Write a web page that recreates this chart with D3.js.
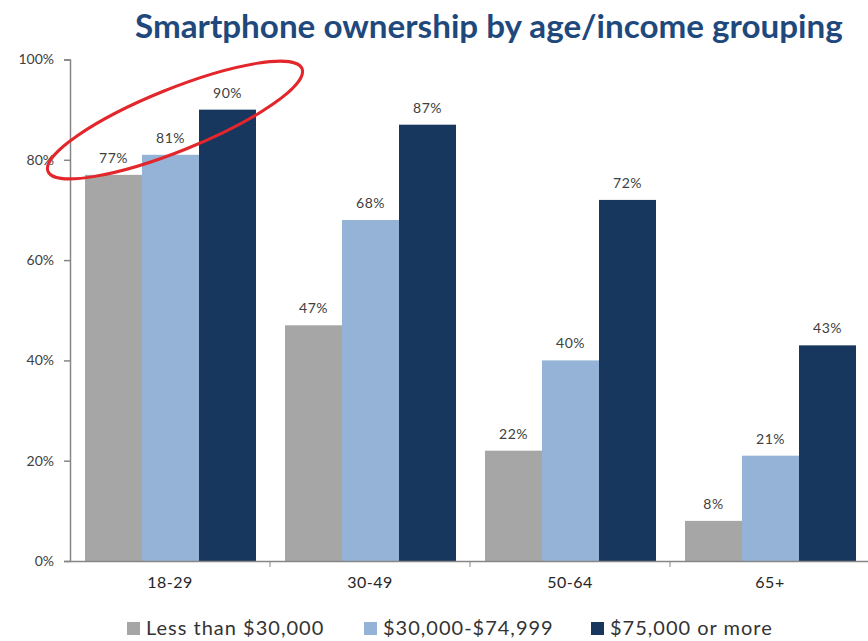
<!DOCTYPE html>
<html>
<head>
<meta charset="utf-8">
<script src="https://cdn.jsdelivr.net/npm/d3@7"></script>
<style>
  body { margin: 0; background: #fff; }
  svg { display: block; }
</style>
</head>
<body>
<div class="chart"></div>
<script>
// data
var ageGroups = ['18-29', '30-49', '50-64', '65+'];
var incomeGroups = ['Less than $30,000', '$30,000-$74,999', '$75,000 or more'];
var lowIncome = [77, 47, 22, 8];
var midIncome = [81, 68, 40, 21];
var highIncome = [90, 87, 72, 43];
var yTicks = [0, 20, 40, 60, 80, 100];
var colors = ['#a6a6a6', '#95b3d7', '#17375e'];

var w = 868;
var h = 641;
var series = [lowIncome, midIncome, highIncome];

var svg = d3.select('.chart').append('svg')
	.attr('width', w)
	.attr('height', h)
	.style('font-family', 'Lato, "Open Sans", sans-serif');

/*---------------------------SCALES--------------------------*/

var x0 = d3.scaleBand().domain(ageGroups).range([70, 870]);
var x1 = d3.scaleBand().domain(d3.range(incomeGroups.length)).range([15, 186]);
var y = d3.scaleLinear().domain([0, 100]).range([561, 59.5]);

/*---------------------------BARS--------------------------*/

var groups = svg.selectAll('.group').data(ageGroups)
	.enter().append('g')
	.attr('transform', function(d) { return 'translate(' + x0(d) + ',0)'; });

groups.selectAll('rect')
	.data(function(d, i) { return series.map(function(s, k) { return {k: k, v: s[i]}; }); })
	.enter().append('rect')
	.attr('x', function(d) { return x1(d.k); })
	.attr('width', x1.bandwidth())
	.attr('y', function(d) { return y(d.v); })
	.attr('height', function(d) { return y(0) - y(d.v); })
	.attr('fill', function(d) { return colors[d.k]; });

groups.selectAll('.lbl')
	.data(function(d, i) { return series.map(function(s, k) { return {k: k, v: s[i]}; }); })
	.enter().append('text')
	.attr('x', function(d) { return x1(d.k) + x1.bandwidth() / 2; })
	.attr('y', function(d) { return y(d.v) - 12; })
	.attr('text-anchor', 'middle')
	.attr('font-size', 14)
	.attr('letter-spacing', 0.5)
	.attr('fill', '#404040')
	.text(function(d) { return d.v + '%'; });

/*---------------------------AXES--------------------------*/

var yAxis = svg.append('g')
	.attr('transform', 'translate(70,0)')
	.call(d3.axisLeft(y).tickValues(yTicks).tickSize(6).tickPadding(10)
		.tickFormat(function(d) { return d + '%'; }));
yAxis.selectAll('text').attr('font-size', 14).attr('fill', '#404040')
	.style('font-family', 'Lato, sans-serif');

var xAxis = svg.append('g')
	.attr('transform', 'translate(0,561)')
	.call(d3.axisBottom(x0).tickSize(0).tickPadding(16));
xAxis.selectAll('text').attr('font-size', 16).attr('letter-spacing', 0.5).attr('fill', '#262626')
	.style('font-family', 'Lato, sans-serif');

// boundary ticks between categories
xAxis.selectAll('.sep').data(ageGroups.slice(1))
	.enter().append('line')
	.attr('x1', function(d) { return x0(d); })
	.attr('x2', function(d) { return x0(d); })
	.attr('y1', 0).attr('y2', 6)
	.attr('stroke', '#868686');

svg.selectAll('.domain, .tick line').attr('stroke', '#868686').attr('stroke-width', 1.5);

/*---------------------------TITLE--------------------------*/

var title = svg.append('text')
	.attr('x', 135)
	.attr('y', 38)
	.attr('font-weight', 'bold')
	.attr('font-size', 30)
	.attr('fill', '#1f497d')
	.text('Smartphone ownership by age/income grouping');
var tw = title.node().getComputedTextLength();
title.attr('font-size', 30 * 708 / tw);

/*---------------------------LEGEND--------------------------*/

var legendX = [127, 364, 591];
var legend = svg.selectAll('.legend').data(incomeGroups)
	.enter().append('g')
	.attr('transform', function(d, i) { return 'translate(' + legendX[i] + ',622)'; });

legend.append('rect')
	.attr('width', 13).attr('height', 13)
	.attr('fill', function(d, i) { return colors[i]; });

legend.append('text')
	.attr('x', 19)
	.attr('y', 13)
	.attr('font-size', 20)
	.attr('letter-spacing', 1)
	.attr('fill', '#333')
	.text(function(d) { return d; });

/*---------------------------HIGHLIGHT--------------------------*/

svg.append('ellipse')
	.attr('cx', 175).attr('cy', 120)
	.attr('rx', 137).attr('ry', 31)
	.attr('transform', 'rotate(-22,175,120)')
	.attr('fill', 'none')
	.attr('stroke', '#e3262b')
	.attr('stroke-width', 3);
</script>
</body>
</html>
